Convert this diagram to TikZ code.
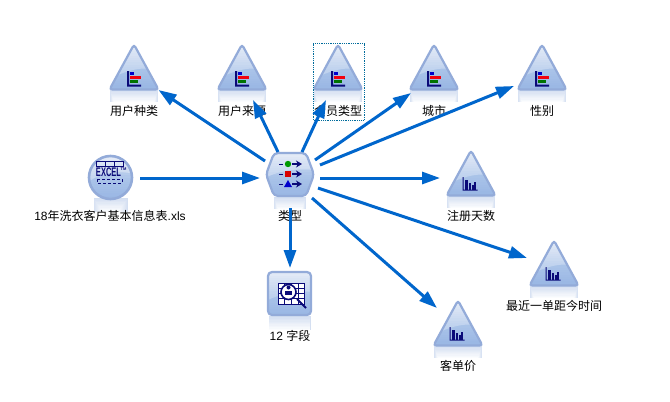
\documentclass[tikz,border=0pt]{standalone}
\usepackage{fontspec}
\setmainfont{Liberation Sans}
\newfontfamily\cjk{Noto Sans CJK SC}
\usetikzlibrary{arrows.meta,calc}
\definecolor{edgeblue}{HTML}{0066CC}
\definecolor{rimblue}{HTML}{93ABD9}
\definecolor{navyicon}{HTML}{0A0A78}
\definecolor{lightbody}{HTML}{DCE5F4}
\definecolor{midbody}{HTML}{ABC4E9}
\definecolor{lowbody}{HTML}{97B5E3}
\definecolor{reflect}{HTML}{D4DFF1}
\definecolor{selblue}{HTML}{006C9C}
% soft mirror image under an icon: centre x, top y, half width at top, half width at bottom, height
\newcommand{\mirrorband}[5]{%
  \foreach \bandi in {0,1,...,9}{%
    \pgfmathsetmacro{\bandy}{#2+#5*\bandi/10}%
    \pgfmathsetmacro{\bandw}{#3+(#4-#3)*\bandi/10}%
    \pgfmathtruncatemacro{\bandp}{100-\bandi*10}%
    \fill[reflect!\bandp!white] ({#1-\bandw},\bandy) rectangle ({#1+\bandw},{#2+#5});%
  }%
}
% vertical colour bands inside the current clip: left x, right x, top y, height
\newcommand{\bodybands}[4]{%
  \foreach \bandi in {0,1,...,19}{%
    \pgfmathsetmacro{\bandy}{#3+#4*\bandi/20}%
    \pgfmathtruncatemacro{\bandp}{\bandi<10 ? \bandi*10 : (\bandi-10)*10}%
    \ifnum\bandi<10
      \fill[midbody!\bandp!lightbody] (#1,\bandy) rectangle (#2,{#3+#4});%
    \else
      \fill[lowbody!\bandp!midbody] (#1,\bandy) rectangle (#2,{#3+#4});%
    \fi
  }%
}
\tikzset{
  x=1pt,y=-1pt,
  conn/.style={draw=edgeblue,line width=3pt,-{Triangle[length=18pt,width=12pt]}},
  lbl/.style={font=\fontsize{12pt}{12pt}\selectfont,text=black,inner sep=0pt},
  rim/.style={draw=rimblue,line width=2.2pt},
  tribase/.pic={
    \mirrorband{0}{44}{24}{20}{12}
    \begin{scope}
      \clip[rounded corners=3pt] (0,-1.5) -- (24.5,43.5) -- (-24.5,43.5) -- cycle;
      \bodybands{-26}{26}{-2}{46}
      \fill[white,opacity=.28] (-26,34) .. controls (-8,24) and (8,20) .. (26,24) -- (26,-3) -- (-26,-3) -- cycle;
    \end{scope}
    \path[rim,rounded corners=3pt] (0,-1.5) -- (24.5,43.5) -- (-24.5,43.5) -- cycle;
  },
  tridist/.pic={
    \pic {tribase};
    \fill[navyicon] (-7,25) rectangle (-5,40.5) (-7,38.7) rectangle (7,40.5);
    \fill[blue!80!black] (-4,26.3) rectangle (0,29);
    \fill[red!80!purple] (-4,30) rectangle (7,33);
    \fill[green!45!black] (-4,34) rectangle (3.5,36.8);
  },
  trihist/.pic={
    \pic {tribase};
    \fill[navyicon] (-8.5,25) rectangle (-7.5,38.5) (-8.5,37.5) rectangle (6.5,38.5);
    \fill[navyicon] (-6,28) rectangle (-3.5,37.5);
    \fill[navyicon] (-2.5,31) rectangle (0,37.5);
    \fill[navyicon] (1,33) rectangle (2.5,37.5);
    \fill[navyicon] (3.2,30) rectangle (4.6,37.5);
  }
}
\begin{document}
\begin{tikzpicture}
\useasboundingbox (0,0) rectangle (670,402);
\fill[white] (0,0) rectangle (670,402);

% distribution triangles
\pic at (134,46) {tridist};
\pic at (242,46) {tridist};
\pic at (338,46) {tridist};
\pic at (434,46) {tridist};
\pic at (542,46) {tridist};
\coordinate (d1) at (134,46);
\coordinate (d2) at (242,46);
\coordinate (d3) at (338,46);
\coordinate (d4) at (434,46);
\coordinate (d5) at (542,46);
% histogram triangles
\pic at (471,152) {trihist};
\pic at (554,242) {trihist};
\pic at (458,302) {trihist};
\coordinate (h1) at (471,152);
\coordinate (h2) at (554,242);
\coordinate (h3) at (458,302);

% Excel source
\coordinate (xl) at (110.5,177.5);
\mirrorband{110.5}{198}{17}{8}{14}
\begin{scope}
  \clip (xl) circle (21.5);
  \bodybands{87}{134}{155}{45}
  \fill[white,opacity=.3] (87,183) .. controls (100,172) and (120,170) .. (134,174) -- (134,150) -- (87,150) -- cycle;
\end{scope}
\path[rim,line width=2.6pt] (xl) circle (21.5);
\draw[navyicon,line width=.8pt] (96.5,161.5) rectangle (123,166.5) (105,161.5) -- (105,166.5) (114,161.5) -- (114,166.5);
\draw[navyicon,line width=.8pt,densely dashed] (97,179) rectangle (122,183);
\node[inner sep=0pt,text=navyicon] (xltxt) at (108.5,172.5) {\scalebox{.6}[1]{\fontsize{12.5pt}{12.5pt}\selectfont\bfseries EXCEL}};
\node[inner sep=0pt,text=navyicon] (xltm) at (123.5,169.5) {\fontsize{4pt}{4pt}\selectfont\bfseries TM};

% type hexagon
\coordinate (ty) at (290,174.5);
\mirrorband{290}{197}{16}{12}{12}
\begin{scope}
  \clip[rounded corners=4pt] (274,153) -- (306,153) -- (314,174.5) -- (306,196) -- (274,196) -- (266,174.5) -- cycle;
  \bodybands{265}{315}{152}{45}
  \fill[white,opacity=.3] (265,178) .. controls (280,170) and (300,168) .. (315,170) -- (315,150) -- (265,150) -- cycle;
\end{scope}
\path[rim,rounded corners=4pt] (274,153) -- (306,153) -- (314,174.5) -- (306,196) -- (274,196) -- (266,174.5) -- cycle;
\foreach \yy in {164,174,184}{
  \draw[navyicon,line width=1pt] (279,\yy) -- (283,\yy);
  \draw[navyicon,line width=1.2pt,-{Stealth[length=6pt,width=7pt]}] (292,\yy) -- (302,\yy);
}
\fill[green!60!black] (288,164) circle (3.2);
\fill[red!85!black] (285,171) rectangle (291,177);
\fill[blue!80!black] (288,180) -- (292,187) -- (284,187) -- cycle;

% table output
\coordinate (tb) at (289.5,293.5);
\mirrorband{289.5}{316}{21}{20}{14}
\begin{scope}
  \clip[rounded corners=4pt] (268,272) rectangle (311,315);
  \bodybands{267}{312}{271}{45}
  \fill[white,opacity=.25] (268,300) .. controls (280,294) and (298,290) .. (311,292) -- (311,272) -- (268,272) -- cycle;
\end{scope}
\path[rim,rounded corners=4pt] (268,272) rectangle (311,315);
\fill[white] (278,283) rectangle (304,304);
\draw[navyicon,line width=.7pt] (278,283) rectangle (304,304) (278,288) -- (304,288) (278,293) -- (304,293) (278,298) -- (304,298) (291,283) -- (291,304) (298,283) -- (298,304) (284,283) -- (284,304);
\draw[navyicon,line width=2pt] (297,299) -- (306,308);
\path[draw=navyicon,line width=1.6pt,fill=white] (288.5,292) circle (7.5);
\fill[navyicon] (285,295) rectangle (292,291);
\fill[navyicon] (288.5,287.5) circle (2);

% labels
\node[lbl] (l1) at (134,111) {\cjk 用户种类};
\node[lbl] (l2) at (242,111) {\cjk 用户来源};
\node[lbl] (l3) at (338,111) {\cjk 会员类型};
\node[lbl] (l4) at (434,111) {\cjk 城市};
\node[lbl] (l5) at (542,111) {\cjk 性别};
\node[lbl] (l6) at (471,216) {\cjk 注册天数};
\node[lbl] (l7) at (554,306) {\cjk 最近一单距今时间};
\node[lbl] (l8) at (458,366) {\cjk 客单价};
\node[lbl] (l9) at (290,216) {\cjk 类型};
\node[lbl] (l10) at (290,336) {12 {\cjk 字段}};
\node[lbl] (l11) at (110,216) {18{\cjk 年洗衣客户基本信息表}.xls};

% selection
\draw[selblue,line width=.8pt,densely dotted] (313,43.5) rectangle (364,120);

% connectors
\draw[conn] ($(xl)+(29.5,0.5)$) -- ($(ty)+(-30,3.5)$);
\draw[conn] ($(ty)+(-25,-13.5)$) -- ($(d1)+(24.5,44)$);
\draw[conn] ($(ty)+(-12,-22.5)$) -- ($(d2)+(11,54)$);
\draw[conn] ($(ty)+(12,-22.5)$) -- ($(d3)+(-12,54)$);
\draw[conn] ($(ty)+(25,-14.5)$) -- ($(d4)+(-23,47)$);
\draw[conn] ($(ty)+(30,-9.5)$) -- ($(d5)+(-28,40)$);
\draw[conn] ($(ty)+(30,3.5)$) -- ($(h1)+(-31,26)$);
\draw[conn] ($(ty)+(28,13.5)$) -- ($(h2)+(-27,16)$);
\draw[conn] ($(ty)+(22,23.5)$) -- ($(h3)+(-21,6)$);
\draw[conn] ($(ty)+(0,33.5)$) -- ($(tb)+(0.5,-25.5)$);
\end{tikzpicture}
\end{document}
